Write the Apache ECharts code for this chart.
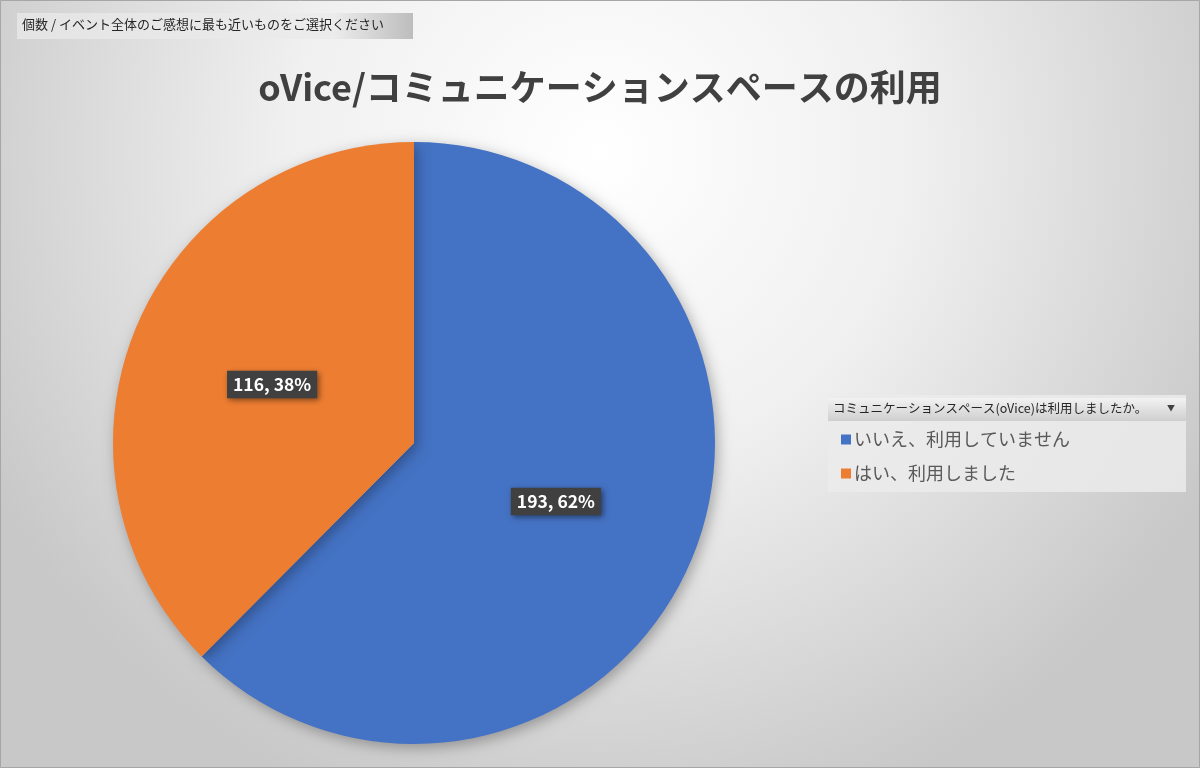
<!DOCTYPE html>
<html><head><meta charset="utf-8">
<script src="https://cdn.jsdelivr.net/npm/echarts@6/dist/echarts.min.js"></script>
<style>html,body{margin:0;padding:0;}#c{width:1200px;height:768px;}</style>
</head><body><div id="c"></div>
<script>
const categories = ['いいえ、利用していません', 'はい、利用しました'];
const values = [193, 116];
const colors = ['#4472C4', '#ED7D31'];
const titleText = 'oVice/コミュニケーションスペースの利用';
const fieldLabel = '個数 / イベント全体のご感想に最も近いものをご選択ください';
const legendHeader = 'コミュニケーションスペース(oVice)は利用しましたか。';

const FONT = '"Noto Sans CJK JP", "Noto Sans", sans-serif';
const chart = echarts.init(document.getElementById('c'));
const total = values.reduce((a,b)=>a+b,0);
chart.setOption({
  backgroundColor: {
    type: 'radial', x: 0.5, y: 0.2, r: 0.9,
    colorStops: [{offset: 0, color: '#ffffff'}, {offset: 0.45, color: '#f0f0f0'}, {offset: 1, color: '#c8c8c8'}]
  },
  animation: false,
  title: {
    text: titleText, left: 'center', top: 64,
    textStyle: {fontFamily: FONT, fontSize: 36, fontWeight: 'bold', color: '#404040'}
  },
  legend: {
    orient: 'vertical', left: 836, top: 424, itemGap: 13,
    icon: 'rect', itemWidth: 10, itemHeight: 10,
    textStyle: {fontFamily: FONT, fontSize: 18, color: '#595959', padding: [0,0,0,-2], lineHeight: 21},
    data: categories, selectedMode: false
  },
  graphic: [
    {type: 'rect', shape: {x: 0.5, y: 0.5, width: 1199, height: 767}, style: {fill: 'none', stroke: '#a6a6a6', lineWidth: 1}, silent: true},
    {type: 'rect', shape: {x: 17, y: 13, width: 396, height: 26},
     style: {fill: {type: 'linear', x: 0, y: 0, x2: 1, y2: 0, colorStops: [{offset: 0, color: '#e4e4e4'}, {offset: 0.8, color: '#ececec'}, {offset: 1, color: '#bdbdbd'}]}}, silent: true},
    {type: 'text', left: 22, top: 18, style: {text: fieldLabel, font: '13px ' + FONT, fill: '#262626'}, silent: true},
    {type: 'rect', shape: {x: 828, y: 395, width: 358, height: 97}, style: {fill: 'rgba(235,235,235,0.85)'}, silent: true, z: -1},
    {type: 'rect', shape: {x: 828, y: 398, width: 358, height: 23},
     style: {fill: {type: 'linear', x: 0, y: 0, x2: 0, y2: 1, colorStops: [{offset: 0, color: '#f2f2f2'}, {offset: 1, color: '#cfcfcf'}]}}, silent: true},
    {type: 'text', left: 833, top: 402, style: {text: legendHeader, font: '12.5px ' + FONT, fill: '#262626'}, silent: true},
    {type: 'text', left: 1167, top: 404, style: {text: '▼', font: '8px ' + FONT, fill: '#404040'}, silent: true}
  ],
  series: [{
    type: 'pie', center: [414, 443], radius: 301, startAngle: 90, clockwise: true,
    avoidLabelOverlap: false,
    itemStyle: {color: p => colors[p.dataIndex], shadowBlur: 14, shadowColor: 'rgba(0,0,0,0.3)', shadowOffsetX: 3, shadowOffsetY: 4},
    label: {
      position: 'inside',
      formatter: p => p.value + ', ' + Math.round(p.value / total * 100) + '%',
      fontFamily: FONT, fontSize: 17.5, fontWeight: 'bold', color: '#ffffff',
      backgroundColor: '#404040', padding: [6, 6, 4, 6],
      shadowBlur: 6, shadowColor: 'rgba(0,0,0,0.5)', shadowOffsetX: 2, shadowOffsetY: 2
    },
    labelLine: {show: false},
    emphasis: {disabled: true},
    data: categories.map((c, i) => ({name: c, value: values[i]}))
  }]
});
</script></body></html>
